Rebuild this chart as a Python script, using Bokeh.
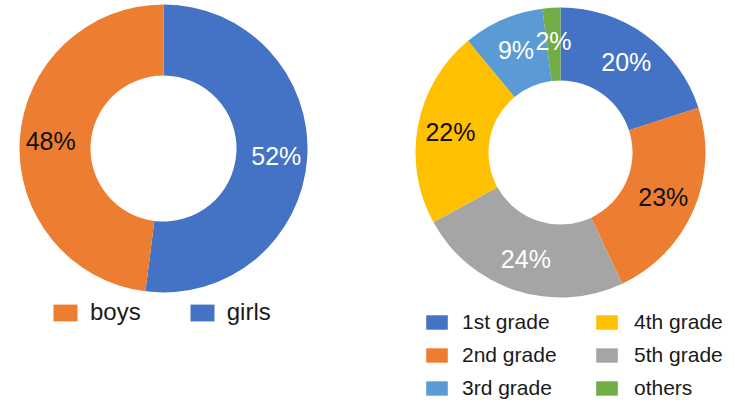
import math
from bokeh.plotting import figure
from bokeh.models import Range1d, Legend, LegendItem, ColumnDataSource
from bokeh.core.properties import value
from bokeh.embed import file_html
from bokeh.resources import INLINE

# ---- data ----
gender_labels = ["girls", "boys"]
gender_values = [52, 48]
gender_colors = ["#4472C4", "#ED7D31"]
gender_text_colors = ["white", "#111111"]

grade_labels = ["1st grade", "2nd grade", "5th grade", "4th grade", "3rd grade", "others"]
grade_values = [20, 23, 24, 22, 9, 2]
grade_colors = ["#4472C4", "#ED7D31", "#A5A5A5", "#FFC000", "#5B9BD5", "#70AD47"]
grade_text_colors = ["white", "#111111", "white", "#111111", "white", "white"]

FONT = "Liberation Sans"


def donut_source(labels, values, colors, tcolors, cx, cy, r_lab):
    total = float(sum(values))
    cum = 0.0
    starts, ends, lx, ly, txt = [], [], [], [], []
    for v in values:
        a0 = math.pi / 2 - 2 * math.pi * cum / total
        cum += v
        a1 = math.pi / 2 - 2 * math.pi * cum / total
        mid = (a0 + a1) / 2
        starts.append(a0)
        ends.append(a1)
        lx.append(cx + r_lab * math.cos(mid))
        ly.append(cy + r_lab * math.sin(mid))
        txt.append(f"{v}%")
    return ColumnDataSource(dict(name=labels, value=values, start=starts, end=ends,
                                 color=colors, tcolor=tcolors, lx=lx, ly=ly, label=txt))


p = figure(width=734, height=400, x_range=Range1d(0, 734), y_range=Range1d(0, 400),
           output_backend="svg", toolbar_location=None, min_border=0)
p.axis.visible = False
p.grid.visible = False
p.outline_line_color = None
p.background_fill_color = "white"

# left donut
LCX, LCY, LRI, LRO = 163, 252, 73, 144
src1 = donut_source(gender_labels, gender_values, gender_colors, gender_text_colors, LCX, LCY, 113)
r1 = p.annular_wedge(x=LCX, y=LCY, inner_radius=LRI, outer_radius=LRO,
                     start_angle="start", end_angle="end", direction="clock",
                     fill_color="color", line_color=None, source=src1)
p.text(x="lx", y="ly", text="label", text_color="tcolor", text_font=value(FONT),
       text_font_size="25px", text_align="center", text_baseline="middle", source=src1)

# right donut
RCX, RCY, RRI, RRO = 560, 248, 72, 145
src2 = donut_source(grade_labels, grade_values, grade_colors, grade_text_colors, RCX, RCY, 112)
r2 = p.annular_wedge(x=RCX, y=RCY, inner_radius=RRI, outer_radius=RRO,
                     start_angle="start", end_angle="end", direction="clock",
                     fill_color="color", line_color=None, source=src2)
p.text(x="lx", y="ly", text="label", text_color="tcolor", text_font=value(FONT),
       text_font_size="25px", text_align="center", text_baseline="middle", source=src2)


def mk_legend(items, loc, orient, gw, gh, fs, spacing, standoff):
    return Legend(items=items, location=loc, orientation=orient,
                  glyph_width=gw, glyph_height=gh, label_text_font_size=fs,
                  label_text_font=FONT, label_text_color="#1a1a1a",
                  spacing=spacing, label_standoff=standoff, padding=0, margin=0,
                  border_line_color=None, background_fill_alpha=0)


leg1 = mk_legend([LegendItem(label=gender_labels[1], renderers=[r1], index=1),
                  LegendItem(label=gender_labels[0], renderers=[r1], index=0)],
                 (50, 74), "horizontal", 30, 21, "24px", 46, 10)
leg2 = mk_legend([LegendItem(label=grade_labels[0], renderers=[r2], index=0),
                  LegendItem(label=grade_labels[1], renderers=[r2], index=1),
                  LegendItem(label=grade_labels[4], renderers=[r2], index=4)],
                 (423, 0), "vertical", 27, 18, "21px", 9, 12)
leg3 = mk_legend([LegendItem(label=grade_labels[3], renderers=[r2], index=3),
                  LegendItem(label=grade_labels[2], renderers=[r2], index=2),
                  LegendItem(label=grade_labels[5], renderers=[r2], index=5)],
                 (593, 0), "vertical", 27, 18, "21px", 9, 14)
for lg in (leg1, leg2, leg3):
    p.add_layout(lg)

open("out.html", "w").write(file_html(p, INLINE))
